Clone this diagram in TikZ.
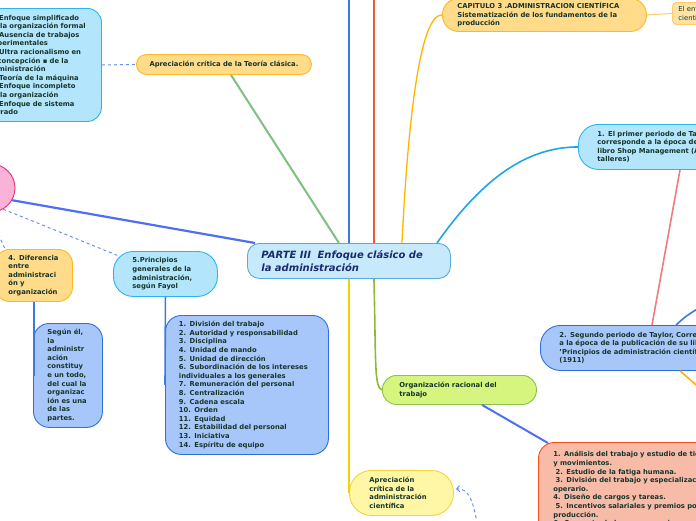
\documentclass[tikz,border=0pt]{standalone}
\usepackage{fontspec}
\setmainfont{DejaVu Sans}
\usetikzlibrary{arrows.meta, calc, shapes.geometric}

\definecolor{ink}{HTML}{17352B}
\definecolor{navy}{HTML}{1B2A6B}
\definecolor{skyfill}{HTML}{B3E5FC}
\definecolor{skyline}{HTML}{2DB3F0}
\definecolor{sandfill}{HTML}{FFDB8A}
\definecolor{sandline}{HTML}{FBB829}
\definecolor{bluefill}{HTML}{A7C7FB}
\definecolor{blueline}{HTML}{2F6FDE}
\definecolor{limefill}{HTML}{D5F57E}
\definecolor{limeline}{HTML}{8BC34A}
\definecolor{rosefill}{HTML}{F7BBA8}
\definecolor{roseline}{HTML}{F4511E}
\definecolor{lemonfill}{HTML}{FFF7A6}
\definecolor{lemonline}{HTML}{F2D43A}
\definecolor{pinkfill}{HTML}{F9B3D8}
\definecolor{pinkline}{HTML}{E8307A}
\definecolor{partefill}{HTML}{C6EAFB}
\definecolor{parteline}{HTML}{5AA8DC}
\definecolor{enffill}{HTML}{FDE3A6}
\definecolor{enfline}{HTML}{FCCB6A}
\definecolor{leafgreen}{HTML}{80BF80}
\definecolor{royal}{HTML}{3B79E0}
\definecolor{tomato}{HTML}{F05A32}
\definecolor{amber}{HTML}{FFB400}
\definecolor{azure}{HTML}{1EA5E6}
\definecolor{coral}{HTML}{F07C7C}
\definecolor{linkblue}{HTML}{4F6FF2}
\definecolor{moss}{HTML}{8DBA2F}
\definecolor{gold}{HTML}{F5D100}
\definecolor{dashblue}{HTML}{6C8DF2}

\begin{document}
\begin{tikzpicture}[x=1pt, y=-1pt,
        card/.style={draw, line width=0.9pt, rounded corners=14pt, align=left, anchor=north west,
            text=ink, inner ysep=2pt, font=\fontsize{6.8}{8.6}\selectfont\bfseries},
        link/.style={line width=1.6pt},
        dashlink/.style={line width=1pt, draw=dashblue, dash pattern=on 3pt off 3pt}
    ]
        \useasboundingbox (0,0) rectangle (696,520);
        \clip (0,0) rectangle (696,520);

        % Centre
        \node[card, fill=partefill, draw=parteline, rounded corners=12pt, text=navy,
            font=\fontsize{10}{13}\selectfont\bfseries\itshape,
            inner xsep=14pt, text width=175pt, minimum height=35pt] (parte) at (247,243)
            {PARTE III\ \ Enfoque clásico de\\ la administración};

        % Left column
        \node[card, fill=skyfill, draw=skyline, inner xsep=8pt, text width=105pt, minimum height=113pt] (critbox) at (-20,8) {
            1. Enfoque simplificado\\
            de la organización formal\\
            2. Ausencia de trabajos\\
            experimentales\\
            3. Ultra racionalismo en\\
            la concepción ▪ de la\\
            administración\\
            4. Teoría de la máquina\\
            5. Enfoque incompleto\\
            de la organización\\
            6. Enfoque de sistema\\
            cerrado
        };
        \node[card, fill=sandfill, draw=sandline, rounded corners=10pt, align=center, anchor=north west,
            minimum width=175pt, minimum height=20pt] (apc) at (136,54) {Apreciación crítica de la Teoría clásica.};

        \node[circle, draw=pinkline, fill=pinkfill, line width=0.9pt, minimum size=48pt] (pink) at (-9,188) {};

        \node[card, fill=sandfill, draw=sandline, inner xsep=13pt, text width=51pt, minimum height=52pt] (dif) at (-5,249)
            {4. Diferencia\\ entre\\ administraci\\ ón y\\ organización};
        \node[card, fill=bluefill, draw=blueline, rounded corners=16pt, inner xsep=14pt, text width=41pt, minimum height=104pt] (segun) at (33,323)
            {Según él,\\ la\\ administr\\ ación\\ constituy\\ e un todo,\\ del cual la\\ organizac\\ ión es una\\ de las\\ partes.};

        \node[card, fill=skyfill, draw=skyline, rounded corners=20pt, inner xsep=19pt, text width=66pt, minimum height=45pt] (fayol) at (113,251)
            {5.Principios\\ generales de la\\ administración,\\ según Fayol};
        \node[card, fill=bluefill, draw=blueline, rounded corners=16pt, inner xsep=13.5pt, text width=136pt, minimum height=139pt] (princ) at (165,315) {
            1. División del trabajo\\
            2. Autoridad y responsabilidad\\
            3. Disciplina\\
            4. Unidad de mando\\
            5. Unidad de dirección\\
            6. Subordinación de los intereses\\
            individuales a los generales\\
            7. Remuneración del personal\\
            8. Centralización\\
            9. Cadena escala\\
            10. Orden\\
            11. Equidad\\
            12. Estabilidad del personal\\
            13. Iniciativa\\
            14. Espíritu de equipo
        };

        % Right column
        \node[card, fill=sandfill, draw=sandline, rounded corners=16pt, inner xsep=15pt, text width=174pt, minimum height=33pt] (cap) at (442,-2)
            {CAPITULO 3 .ADMINISTRACION CIENTÍFICA\\ Sistematización de los fundamentos de la\\ producción};
        \node[card, fill=enffill, draw=enfline, rounded corners=4pt, font=\fontsize{6.8}{8.2}\selectfont,
            inner xsep=6pt, text width=80pt, minimum height=22pt] (enf) at (672,2)
            {El enfoque\\ científico};

        \node[card, fill=skyfill, draw=skyline, rounded corners=20pt, inner xsep=19pt, text width=250pt, minimum height=45pt] (per1) at (578,124)
            {1. El primer periodo de Taylor,\\ corresponde a la época de la publicación de su\\ libro Shop Management (Administración de\\ talleres)};
        \node[card, fill=bluefill, draw=blueline, rounded corners=20pt, inner xsep=19pt, text width=250pt, minimum height=45pt] (per2) at (540,325)
            {2. Segundo periodo de Taylor, Corresponde\\ a la época de la publicación de su libro\\ 'Principios de administración científica'\\ (1911)};

        \node[card, fill=limefill, draw=limeline, rounded corners=14pt, inner xsep=17pt, text width=120pt, minimum height=29pt] (org) at (382,375)
            {Organización racional del\\ trabajo};
        \node[card, fill=rosefill, draw=roseline, rounded corners=16pt, inner xsep=15pt, inner ysep=9pt, text width=250pt] (tecn) at (538,442) {
            1. Análisis del trabajo y estudio de tiempos\\
            y movimientos.\\
            \ 2. Estudio de la fatiga humana.\\
            \ 3. División del trabajo y especialización del\\
            operario.\\
            4. Diseño de cargos y tareas.\\
            \ 5. Incentivos salariales y premios por\\
            producción.\\
            6. Concepto de homo economicus.
        };

        \node[card, fill=lemonfill, draw=lemonline, rounded corners=22pt, inner xsep=20pt, text width=64pt, minimum height=45pt] (apadm) at (349,470)
            {Apreciación\\ crítica de la\\ administración\\ científica};

        % Free ends
        \coordinate (topA) at (349,-5);
        \coordinate (topB) at (374,-5);
        \coordinate (offA) at (702,306);
        \coordinate (offB) at (702,390);
        \coordinate (offC) at (478,530);

        % Connectors
        \draw[link, draw=leafgreen, line width=2pt] ($(apc.south)+(7,0)$) -- ($(parte.north)+(-10,0)$);
        \draw[link, draw=royal] (parte.north) -- (topA);
        \draw[link, draw=tomato] ($(parte.north)+(25,0)$) -- (topB);
        \draw[link, draw=amber, line width=1.3pt] ($(parte.north)+(53,0)$) .. controls (408,120) and (420,14) .. (cap.west);
        \draw[link, draw=azure] ($(parte.north)+(88,0)$) .. controls (478,185) and (522,147) .. (per1.west);
        \draw[link, draw=enfline, line width=1pt] (cap.east) -- (enf.west);
        \draw[link, draw=coral] ($(per1.south west)+(102,0)$) -- ($(per2.north west)+(112,0)$);
        \draw[link, draw=royal] ($(per2.north west)+(136,0)$) .. controls (686,316) .. (offA);
        \draw[link, draw=amber] ($(per2.south west)+(140,0)$) -- (offB);
        \draw[link, draw=linkblue, line width=2.2pt] (pink.-30) -- ($(parte.north west)+(8,0)$);
        \draw[link, draw=moss] ($(parte.south)+(25,0)$) .. controls (376,360) and (374,388) .. (org.west);
        \draw[link, draw=linkblue, line width=2pt] ($(org.south west)+(100,0)$) -- ($(tecn.north west)+(10,1)$);
        \draw[link, draw=gold] (parte.south) -- (apadm.west);
        \draw[link, draw=royal] (fayol.south) -- (princ.west);
        \draw[link, draw=royal] (dif.south) |- (segun.west);

        \draw[dashlink] (critbox.east) -- (apc.west);
        \draw[dashlink] (pink.-60) -- ($(fayol.north west)+(6,5)$);
        \draw[dashlink] (pink.-95) -- ($(dif.north west)+(10,0)$);
        \draw[dashlink, -{Straight Barb[length=3pt]}] (offC) .. controls (474,500) and (468,488) .. ($(apadm.east)+(2,-4)$);

    \end{tikzpicture}
\end{document}
